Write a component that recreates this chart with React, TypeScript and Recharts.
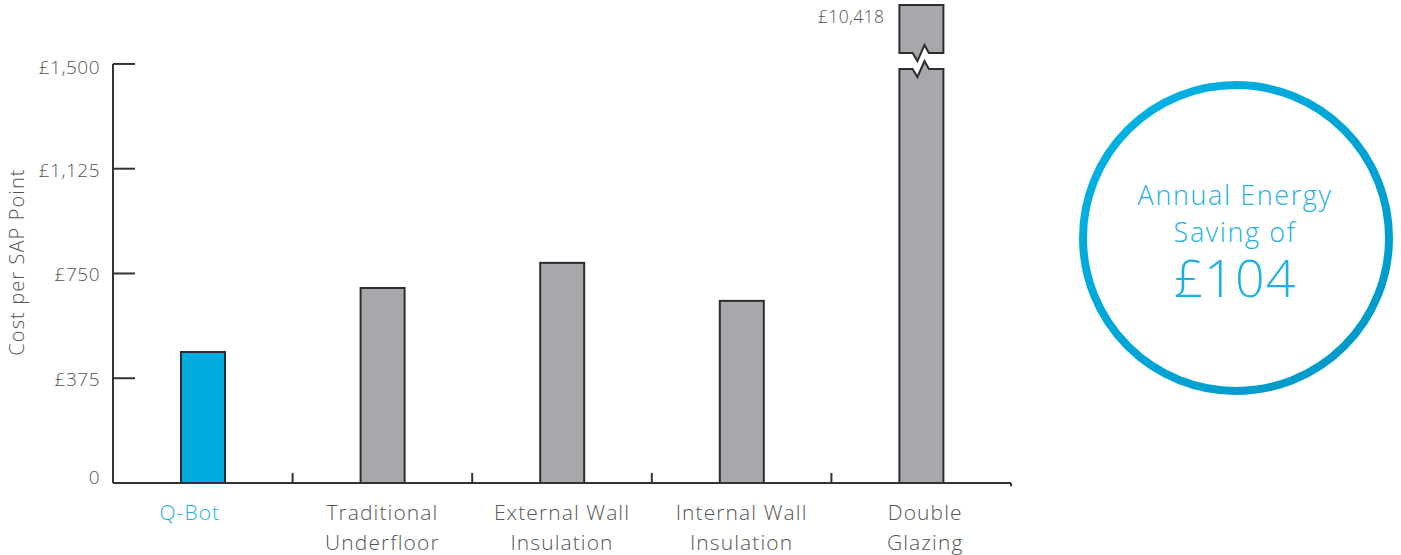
import React from 'react';
import { BarChart, Bar, XAxis, YAxis, ReferenceLine, Label } from 'recharts';

const categories = ['Q-Bot', 'Traditional Underfloor', 'External Wall Insulation', 'Internal Wall Insulation', 'Double Glazing'];
const labelLines = [['Q-Bot'], ['Traditional', 'Underfloor'], ['External Wall', 'Insulation'], ['Internal Wall', 'Insulation'], ['Double', 'Glazing']];
const costs = [469, 698, 788, 652, 10418];
const costLabels = ['£469', '£698', '£788', '£652', '£10,418'];
const yTicks = [0, 375, 750, 1125, 1500];
const yTickLabels = ['0', '£375', '£750', '£1,125', '£1,500'];

const AXIS_TOP = 1500; // drawn y axis ends here
const DISPLAY_TOP = 1711; // visible height of the broken bar
const BREAK_LOW = 1482;
const BREAK_HIGH = 1539;

const FONT = "'Open Sans', 'Lato', sans-serif";
const CYAN = '#1cb1e2';
const GREY_TEXT = '#555555';
const AXIS = '#333333';

const data = categories.map((name, i) => ({
  name,
  value: Math.min(costs[i], DISPLAY_TOP),
  actual: costs[i],
  label: costLabels[i],
  highlight: i === 0,
}));

function BarShape(props: any) {
  const { x, y, width, height, payload } = props;
  const fill = payload.highlight ? '#00abde' : '#a7a8ab';
  const stroke = '#2d2d2d';
  if (payload.actual <= payload.value) {
    return <rect x={x} y={y} width={width} height={height} fill={fill} stroke={stroke} strokeWidth={2} />;
  }
  const base = y + height;
  const ppu = height / payload.value;
  const yl = base - BREAK_LOW * ppu;
  const yh = base - BREAK_HIGH * ppu;
  const amp = 8;
  const zig = (yy: number) => [
    [x + width * 0.3, yy],
    [x + width * 0.41, yy + amp],
    [x + width * 0.57, yy - amp],
    [x + width * 0.67, yy],
  ];
  const lower = [[x, base], [x, yl], ...zig(yl), [x + width, yl], [x + width, base]];
  const upper = [[x, y], [x + width, y], [x + width, yh], ...zig(yh).reverse(), [x, yh]];
  const toStr = (pts: number[][]) => pts.map((p) => p.join(',')).join(' ');
  return (
    <g>
      <polygon points={toStr(lower)} fill={fill} stroke={stroke} strokeWidth={2} strokeLinejoin="miter" />
      <polygon points={toStr(upper)} fill={fill} stroke={stroke} strokeWidth={2} strokeLinejoin="miter" />
      <text x={x - 15} y={y + 18} textAnchor="end" fill={GREY_TEXT} fontSize={17.5} letterSpacing={0.4} fontFamily={FONT} fontWeight={300}>
        {payload.label}
      </text>
    </g>
  );
}

function YTick(props: any) {
  const { x, y, payload } = props;
  const idx = yTicks.indexOf(payload.value);
  const shift = payload.value === 0 ? -6 : payload.value === 1500 ? 3 : 1;
  return (
    <g>
      {payload.value !== 0 && (
        <line x1={x + 13} x2={x + 35} y1={y} y2={y} stroke={AXIS} strokeWidth={2} />
      )}
      <text x={x} y={y + shift} dy="0.36em" textAnchor="end" fill={GREY_TEXT} fontSize={19} letterSpacing={0.5} fontFamily={FONT} fontWeight={300}>
        {yTickLabels[idx]}
      </text>
    </g>
  );
}

function XTick(props: any) {
  const { x, y, payload } = props;
  const idx = categories.indexOf(payload.value);
  const lines = labelLines[idx] || [];
  const dx = idx === 0 ? -13 : idx === 4 ? 4 : 0;
  return (
    <text x={x + dx} y={y} textAnchor="middle" fill={idx === 0 ? CYAN : GREY_TEXT} fontSize={21} letterSpacing={1.1} fontFamily={FONT} fontWeight={300}>
      {lines.map((l, i) => (
        <tspan key={i} x={x + dx} y={y + 37 + i * 30}>
          {l}
        </tspan>
      ))}
    </text>
  );
}

function YLabel(props: any) {
  const vb = props.viewBox || { x: 0, y: 0, width: 0, height: 0 };
  const cx = vb.x + 24;
  const cy = vb.y + vb.height / 2 + 18;
  return (
    <text x={cx} y={cy} transform={`rotate(-90 ${cx} ${cy})`} textAnchor="middle" fill={GREY_TEXT} fontSize={20} letterSpacing={1.1} fontFamily={FONT} fontWeight={300}>
      Cost per SAP Point
    </text>
  );
}

export default function App() {
  return (
    <div style={{ position: 'absolute', left: 0, top: 0, width: 1401, height: 555, background: '#fff' }}>
      <BarChart width={1401} height={555} data={data} margin={{ top: 5, right: 390, bottom: 0, left: 0 }} barCategoryGap={0}>
        <XAxis
          dataKey="name"
          type="category"
          interval={0}
          tickLine={false}
          tickSize={0}
          tickMargin={0}
          height={72}
          axisLine={{ stroke: AXIS, strokeWidth: 2 }}
          tick={<XTick />}
        />
        <YAxis
          type="number"
          domain={[0, DISPLAY_TOP]}
          ticks={yTicks}
          interval={0}
          width={113}
          axisLine={false}
          tickLine={false}
          tickSize={0}
          tickMargin={13}
          tick={<YTick />}
        >
          <Label content={<YLabel />} position="insideLeft" />
        </YAxis>
        <ReferenceLine
          segment={[{ x: categories[0], y: 0 }, { x: categories[0], y: AXIS_TOP }]}
          position="start"
          stroke={AXIS}
          strokeWidth={2}
          ifOverflow="visible"
        />
        {categories.slice(0, 4).map((c) => (
          <ReferenceLine
            key={c}
            segment={[{ x: c, y: 0 }, { x: c, y: 36 }]}
            position="end"
            stroke={AXIS}
            strokeWidth={2}
            ifOverflow="visible"
          />
        ))}
        <ReferenceLine
          segment={[{ x: categories[4], y: 0 }, { x: categories[4], y: -12 }]}
          position="end"
          stroke={AXIS}
          strokeWidth={2}
          ifOverflow="visible"
        />
        <Bar dataKey="value" barSize={44} shape={<BarShape />} isAnimationActive={false} />
      </BarChart>
      <svg width={1401} height={555} style={{ position: 'absolute', left: 0, top: 0, pointerEvents: 'none' }}>
        <defs>
          <linearGradient id="ring" x1="0" y1="0" x2="1" y2="1">
            <stop offset="0%" stopColor="#00b4e6" />
            <stop offset="100%" stopColor="#0097c6" />
          </linearGradient>
        </defs>
        <circle cx={1236} cy={238} r={153} fill="none" stroke="url(#ring)" strokeWidth={8} />
        <text textAnchor="middle" fill={CYAN} fontFamily={FONT} fontWeight={300}>
          <tspan x={1235} y={205} fontSize={27} letterSpacing={1.6}>
            Annual Energy
          </tspan>
          <tspan x={1235} y={242} fontSize={27} letterSpacing={1.6}>
            Saving of
          </tspan>
          <tspan x={1235} y={297} fontSize={52} letterSpacing={1}>
            £104
          </tspan>
        </text>
      </svg>
    </div>
  );
}
